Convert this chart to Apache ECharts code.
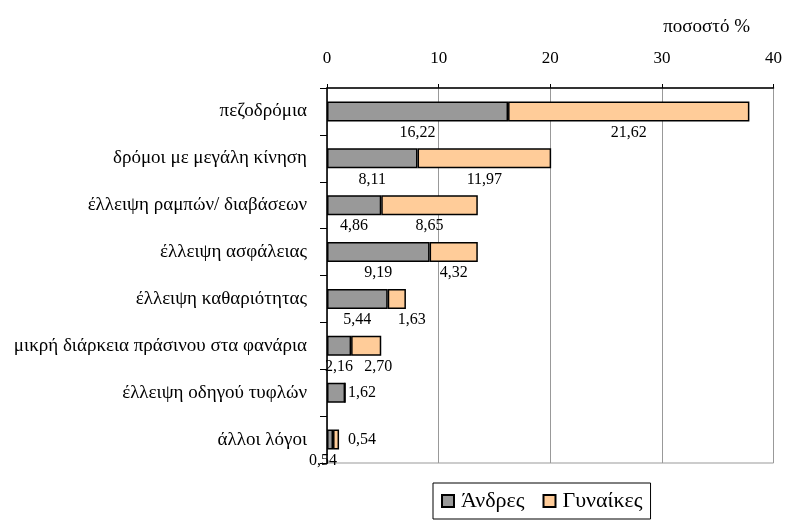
<!DOCTYPE html>
<html>
<head>
<meta charset="utf-8">
<script src="https://cdn.jsdelivr.net/npm/echarts@6/dist/echarts.min.js"></script>
<style>html,body{margin:0;padding:0;background:#fff;}#c{width:785px;height:520px;}</style>
</head>
<body>
<div id="c"></div>
<script>
const categories = ['πεζοδρόμια', 'δρόμοι με μεγάλη κίνηση', 'έλλειψη ραμπών/ διαβάσεων', 'έλλειψη ασφάλειας', 'έλλειψη καθαριότητας', 'μικρή διάρκεια πράσινου στα φανάρια', 'έλλειψη οδηγού τυφλών', 'άλλοι λόγοι'];
const men = [16.22, 8.11, 4.86, 9.19, 5.44, 2.16, 1.62, 0.54];
const women = [21.62, 11.97, 8.65, 4.32, 1.63, 2.70, 0, 0.54];
const xTicks = [0, 10, 20, 30, 40];

const FONT = '"Liberation Serif", "DejaVu Serif", serif';
const fmt = v => v.toFixed(2).replace('.', ',');

const menLabel = i => {
  if (i === 6) return { position: 'right', distance: 3 };
  if (i === 7) return { position: 'bottom', offset: [-7, 0] };
  return {};
};
const womenLabel = i => {
  if (i === 4) return { offset: [15, 0] };
  if (i === 5) return { offset: [12, 0] };
  if (i === 6) return { show: false };
  if (i === 7) return { position: 'right', distance: 9 };
  return {};
};

const chart = echarts.init(document.getElementById('c'));
chart.setOption({
  animation: false,
  backgroundColor: '#fff',
  textStyle: { fontFamily: FONT },
  title: {
    text: 'ποσοστό %', right: 30, top: 13,
    textStyle: { fontFamily: FONT, fontSize: 19, fontWeight: 'normal', color: '#000' }
  },
  legend: {
    left: 433, top: 483,
    data: ['Άνδρες', 'Γυναίκες'],
    icon: 'rect', itemWidth: 12, itemHeight: 12, itemGap: 18,
    borderColor: '#000', borderWidth: 1, padding: [7, 8, 7, 8],
    textStyle: { fontFamily: FONT, fontSize: 22, color: '#000', padding: [0, 0, 0, 2] }
  },
  grid: {
    left: 327, right: 9, top: 88, bottom: 57,
    show: true, borderColor: '#999', borderWidth: 1
  },
  xAxis: {
    type: 'value', position: 'top', min: xTicks[0], max: xTicks[xTicks.length - 1], interval: 10,
    axisLine: { show: true, lineStyle: { color: '#000', width: 1.5 } },
    axisTick: { show: true, length: 4, lineStyle: { color: '#000' } },
    axisLabel: { fontFamily: FONT, fontSize: 17, color: '#000', margin: 21 },
    splitLine: { show: true, lineStyle: { color: '#999', width: 1 } }
  },
  yAxis: {
    type: 'category', inverse: true, data: categories,
    axisLine: { show: true, lineStyle: { color: '#000', width: 1.5 } },
    axisTick: { show: true, length: 7, lineStyle: { color: '#000' } },
    axisLabel: { fontFamily: FONT, fontSize: 19, color: '#000', margin: 20 }
  },
  series: [
    {
      name: 'Άνδρες', type: 'bar', stack: 'all', barWidth: 20,
      itemStyle: { color: '#999999', borderColor: '#000', borderWidth: 1.5 },
      label: { show: true, position: 'bottom', distance: 3, color: '#000', fontFamily: FONT, fontSize: 16, formatter: p => fmt(p.value) },
      data: men.map((v, i) => ({ value: v, label: menLabel(i) }))
    },
    {
      name: 'Γυναίκες', type: 'bar', stack: 'all', barWidth: 20,
      itemStyle: { color: '#FFCC99', borderColor: '#000', borderWidth: 1.5 },
      label: { show: true, position: 'bottom', distance: 3, color: '#000', fontFamily: FONT, fontSize: 16, formatter: p => fmt(p.value) },
      data: women.map((v, i) => ({ value: v, label: womenLabel(i) }))
    }
  ]
});
</script>
</body>
</html>
